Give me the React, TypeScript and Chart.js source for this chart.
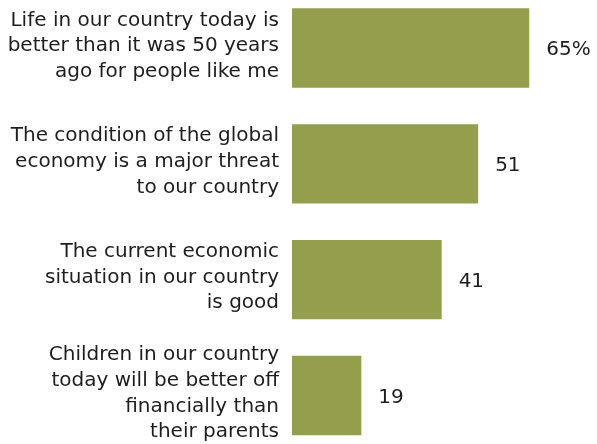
import React, { useEffect, useRef } from "react";
import { Chart, registerables } from "chart.js";

Chart.register(...registerables);

const categories: string[][] = [
  ["Life in our country today is", "better than it was 50 years", "ago for people like me"],
  ["The condition of the global", "economy is a major threat", "to our country"],
  ["The current economic", "situation in our country", "is good"],
  ["Children in our country", "today will be better off", "financially than", "their parents"],
];
const values: number[] = [65, 51, 41, 19];
const valueLabels: string[] = ["65%", "51", "41", "19"];

const BAR_COLOR = "#959E4C";
const TEXT_COLOR = "#1E1E1E";
const FONT_FAMILY = "'DejaVu Sans', sans-serif";

export default function App() {
  const ref = useRef<HTMLCanvasElement | null>(null);

  useEffect(() => {
    if (!ref.current) return;
    const valuePlugin = {
      id: "valueLabels",
      afterDatasetsDraw(chart: any) {
        const ctx = chart.ctx;
        const meta = chart.getDatasetMeta(0);
        ctx.save();
        ctx.font = `20px ${FONT_FAMILY}`;
        ctx.fillStyle = TEXT_COLOR;
        ctx.textAlign = "left";
        ctx.textBaseline = "middle";
        meta.data.forEach((bar: any, i: number) => {
          ctx.fillText(valueLabels[i], bar.x + 17, bar.y + 2);
        });
        ctx.restore();
      },
    };
    const chart = new Chart(ref.current, {
      type: "bar",
      data: {
        labels: categories,
        datasets: [
          {
            data: values,
            backgroundColor: BAR_COLOR,
            borderWidth: 0,
            barPercentage: 0.685,
            categoryPercentage: 1,
            clip: false as any,
          },
        ],
      },
      options: {
        indexAxis: "y",
        animation: false,
        responsive: true,
        maintainAspectRatio: false,
        layout: { padding: { top: 48, bottom: 48.5, right: 13, left: 0 } },
        plugins: {
          legend: { display: false },
          tooltip: { enabled: false },
        },
        scales: {
          x: {
            min: 0,
            max: 80,
            display: false,
          },
          y: {
            type: "category",
            offset: false,
            grid: { display: false },
            border: { display: false },
            ticks: {
              color: TEXT_COLOR,
              padding: 5,
              labelOffset: -2,
              font: { family: FONT_FAMILY, size: 20, lineHeight: 1.28 },
            },
            afterFit(scale: any) {
              scale.width = 292;
              scale.paddingTop = 0;
              scale.paddingBottom = 0;
            },
          },
        },
      },
      plugins: [valuePlugin],
    });
    return () => chart.destroy();
  }, []);

  return (
    <div style={{ position: "absolute", left: 0, top: 0, width: 597, height: 444 }}>
      <canvas ref={ref} />
    </div>
  );
}
